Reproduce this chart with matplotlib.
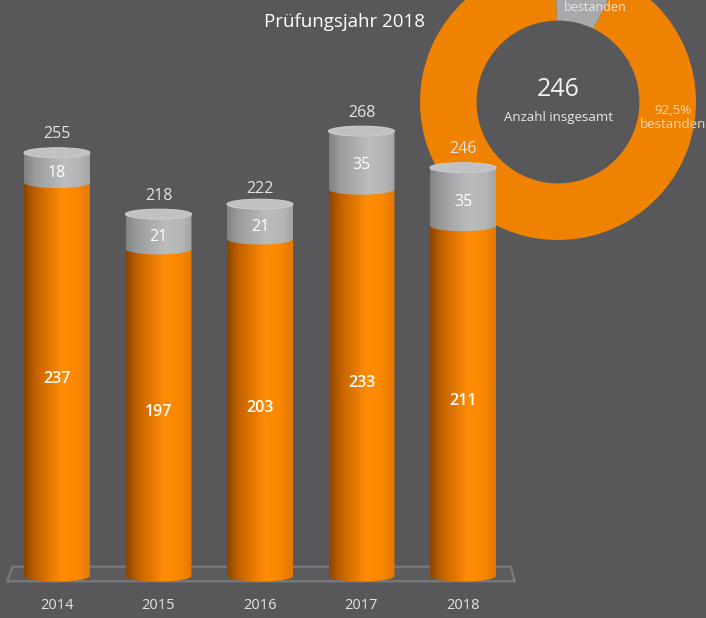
import numpy as np
import matplotlib.pyplot as plt
from matplotlib.patches import Ellipse, Polygon, PathPatch
from matplotlib.path import Path
from matplotlib.colors import LinearSegmentedColormap

plt.rcParams['font.family'] = ['Open Sans', 'DejaVu Sans']

# data
years = ["2014", "2015", "2016", "2017", "2018"]
bestanden = [237, 197, 203, 233, 211]
nicht_bestanden = [18, 21, 21, 35, 35]
totals = [255, 218, 222, 268, 246]

donut_title = "Prüfungsjahr 2018"
donut_total = 246
donut_shares = [7.5, 92.5]          # nicht bestanden, bestanden
donut_labels = ["bestanden", "92,5%\nbestanden"]

BG = "#58585a"
ORANGE = "#ef8200"
GRAY = "#a7a9ac"
TXT = "#e4e4e4"

orange_cm = LinearSegmentedColormap.from_list(
    "cyl_orange", [(0, "#8a4400"), (0.18, "#c46200"), (0.58, "#ff8d05"),
                   (0.8, "#fb8800"), (1, "#e27700")])
gray_cm = LinearSegmentedColormap.from_list(
    "cyl_gray", [(0, "#808284"), (0.18, "#9b9d9f"), (0.6, "#babcbe"),
                 (0.85, "#b3b5b7"), (1, "#a2a4a6")])

fig = plt.figure(figsize=(7.06, 6.18), dpi=100, facecolor=BG)

# donut (behind the bars)
ax_d = fig.add_axes([420 / 706, 1 - 240 / 618, 276 / 706, 276 / 618], zorder=0)
ax_d.pie(donut_shares, colors=[GRAY, ORANGE], startangle=91, counterclock=False,
         radius=1, wedgeprops=dict(width=0.41, edgecolor="none"))
ax_d.set_xlim(-1, 1)
ax_d.set_ylim(-1, 1)
ax_d.axis("off")
ax_d.text(0, 0.087, str(donut_total), ha="center", va="center", color="#f2f2f2", fontsize=18)
ax_d.text(0, -0.11, "Anzahl insgesamt", ha="center", va="center", color="#e8e8e8", fontsize=9.5)
ax_d.text(0.27, 0.635, donut_labels[0], ha="center", va="bottom", color="#e6e6e6",
          fontsize=9)
ax_d.text(0.835, -0.11, donut_labels[1], ha="center", va="center", color="#fbd7b0",
          fontsize=9.5, linespacing=1.1)

fig.text(345 / 706, 1 - 22 / 618, donut_title, ha="center", va="center", color="white",
         fontsize=13.5)

# cylinders
ax = fig.add_axes([0, 0, 1, 1], zorder=1)
ax.patch.set_alpha(0)
ax.axis("off")
xlim = (-57 / 101.5, (706 - 57) / 101.5)
ylim = ((576 - 618) / 1.66, 576 / 1.66)

x = np.arange(len(years))
w = 0.65
eh = 6.6      # ellipse height in data units

# floor plate
n = len(years)
floor = Polygon([(-0.44, 5.6), (n - 1 + 0.47, 5.6), (n - 1 + 0.51, -3.2), (-0.49, -3.2)],
                closed=True, facecolor="#5c5c5e", edgecolor="#7a7a7c", lw=1.6, zorder=1)
ax.add_patch(floor)

bars_o = ax.bar(x, bestanden, width=w, color="#f08400", zorder=1.5)
bars_g = ax.bar(x, nicht_bestanden, width=w, bottom=bestanden, color="#b0b2b4", zorder=1.5)


def cylinder_segment(rect, cmap, z):
    x0, y0 = rect.get_x(), rect.get_y()
    ww, hh = rect.get_width(), rect.get_height()
    t = np.linspace(np.pi, 2 * np.pi, 60)
    arc = np.column_stack([x0 + ww / 2 + ww / 2 * np.cos(t), y0 + eh / 2 * np.sin(t)])
    verts = np.vstack([[x0, y0 + hh], arc, [x0 + ww, y0 + hh], [x0, y0 + hh]])
    shape = PathPatch(Path(verts, closed=True), facecolor="none", edgecolor="none",
                      transform=ax.transData)
    ax.add_patch(shape)
    grad = np.linspace(0, 1, 256).reshape(1, -1)
    im = ax.imshow(grad, cmap=cmap, aspect="auto", interpolation="bilinear",
                   extent=[x0, x0 + ww, y0 - eh, y0 + hh], zorder=z)
    im.set_clip_path(shape)


for ro, rg in zip(bars_o, bars_g):
    cylinder_segment(ro, orange_cm, 2)
    cylinder_segment(rg, gray_cm, 3)
    cap = Ellipse((rg.get_x() + rg.get_width() / 2, rg.get_y() + rg.get_height()),
                  rg.get_width(), eh * 0.9, facecolor="#bfc1c3", edgecolor="#c9cbcd",
                  lw=0.8, zorder=4)
    ax.add_patch(cap)

for xi, o, g, tot, yr in zip(x, bestanden, nicht_bestanden, totals, years):
    ax.text(xi, tot + 11, str(tot), ha="center", va="center", color=TXT, fontsize=11.5)
    ax.text(xi, o + g / 2 - 3, str(g), ha="center", va="center", color="white", fontsize=11.5)
    ax.text(xi, o / 2, str(o), ha="center", va="center", color="white", fontsize=11.5,
            fontweight="semibold")
    ax.text(xi, -17.5, yr, ha="center", va="center", color=TXT, fontsize=10.5)

ax.set_xlim(*xlim)
ax.set_ylim(*ylim)

fig.savefig("out.png", dpi=100, facecolor=BG)
